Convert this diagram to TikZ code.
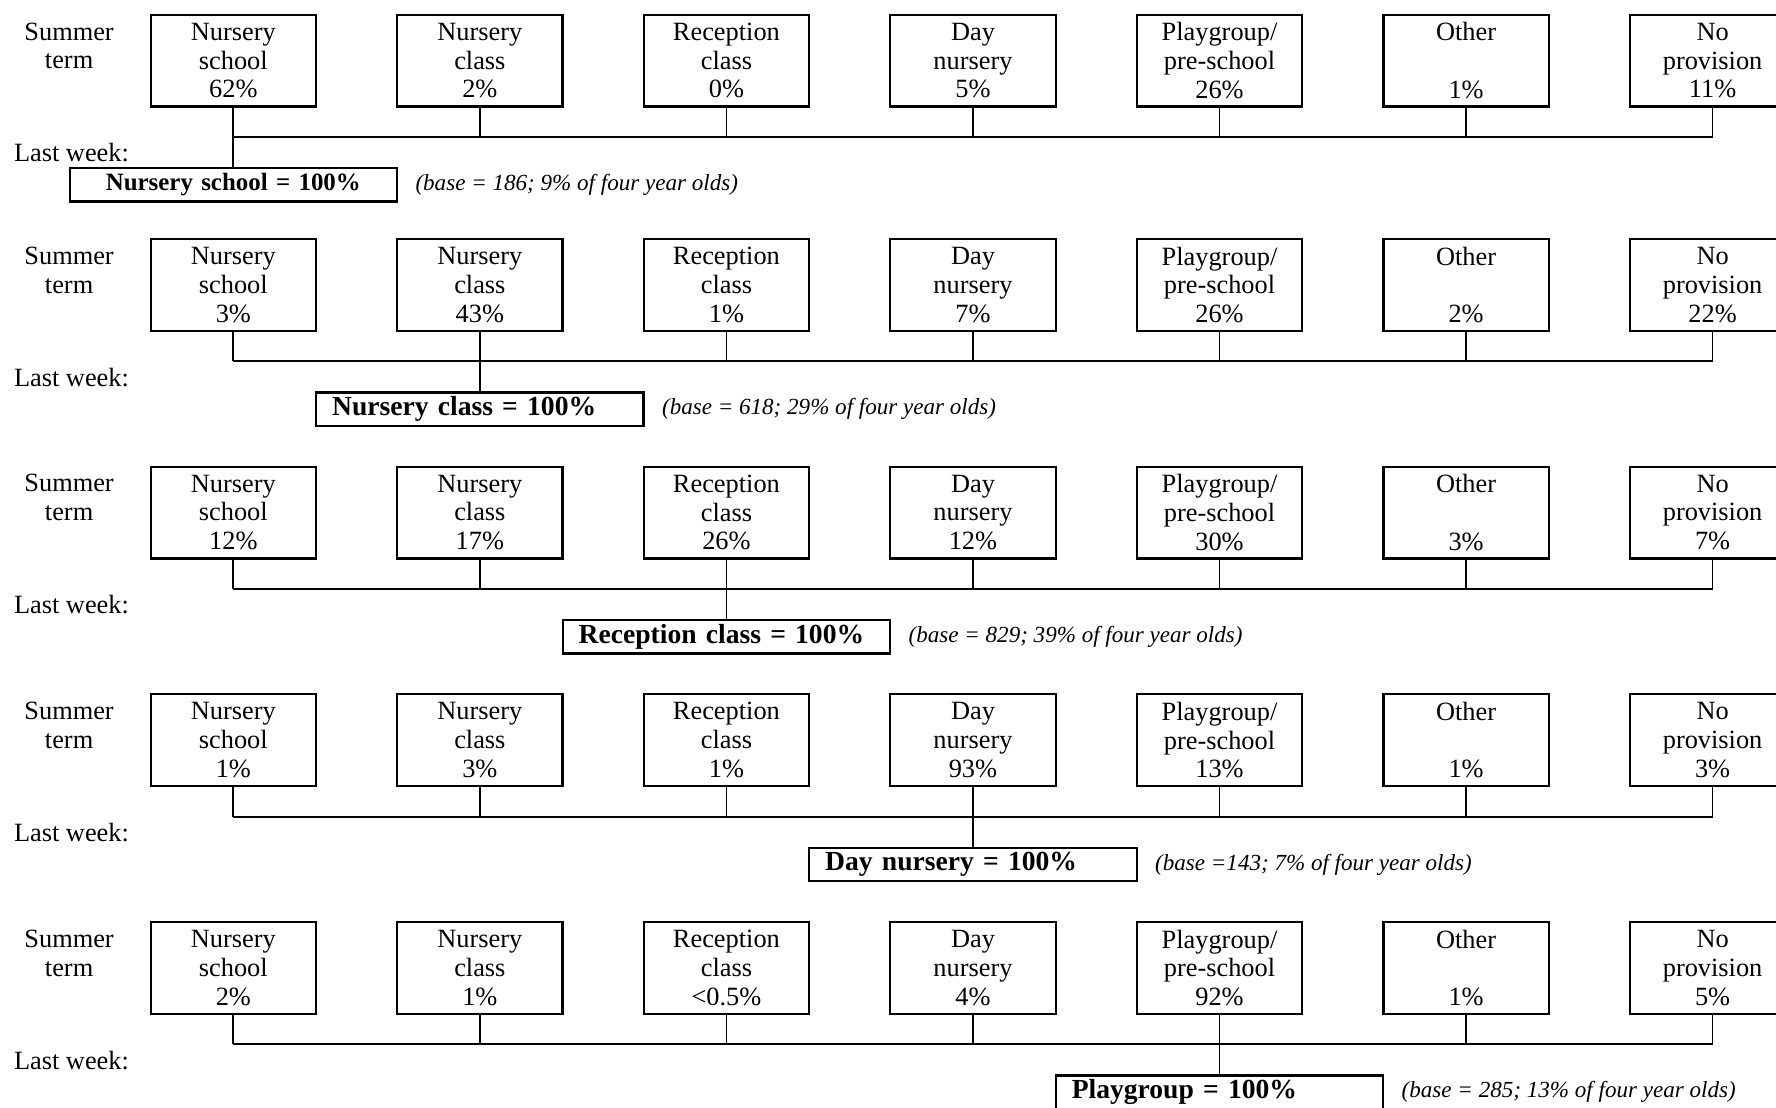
\documentclass[tikz,border=0pt]{standalone}
\usepackage{fontspec}
\setmainfont{Liberation Serif}
\tikzset{
  x=0.55pt, y=-0.55pt,
  provbox/.style={draw, line width=1.1pt, minimum width=80.3pt, minimum height=44.55pt,
    inner sep=0pt, align=center, font=\fontsize{12.8}{14}\selectfont},
  lastbox/.style={draw, line width=1.1pt, minimum width=158.95pt, minimum height=16.2pt,
    inner sep=0pt, text width=143.5pt},
  conn/.style={line width=0.85pt},
  sidelabel/.style={align=center, inner sep=0pt, font=\fontsize{12.8}{14}\selectfont},
  basetext/.style={inner sep=0pt, font=\fontsize{11.2}{13}\selectfont\itshape}
}
\newcommand\provlab[1]{\ifcase#1 Nursery\\school\or Nursery\\class\or Reception\\class\or Day\\nursery\or Playgroup/\\pre-school\or Other\\\mbox{}\or No\\provision\fi}
% #1 row name, #2 top y, #3 percentages, #4 chosen index, #5 bottom label, #6 base text, #7 label style
\newcommand\provrow[7]{%
  \node[sidelabel] (#1sum) at (61,#2+27.5) {Summer\\term};
  \coordinate (#1bus) at (0,#2+108);
  \node[sidelabel, anchor=west] (#1lw) at (12,#2+122) {Last week:};
  \foreach \p [count=\i from 0] in {#3} {
    \node[provbox] (#1b\i) at (206+217.67*\i,#2+40.5) {\provlab{\i}\\\p\%};
    \draw[conn] (#1b\i.south) -- (#1b\i.south |- #1bus);
  }
  \draw[conn] (#1b0.south |- #1bus) -- (#1b6.south |- #1bus);
  \node[lastbox, #7] (#1t) at ([yshift=-(135.5+14.75)*0.55pt+0.55pt*108]#1b#4.south |- #1bus) {#5};
  \draw[conn] (#1b#4.south |- #1bus) -- (#1t.north);
  \node[basetext, anchor=west] (#1base) at ([xshift=8.25pt]#1t.east) {#6};
}
\begin{document}
\begin{tikzpicture}
\clip (0,0) rectangle (1568,978);
\provrow{ra}{13}{62,2,0,5,26,1,11}{0}{Nursery school = 100\%}{(base = 186; 9\% of four year olds)}{align=center, font=\fontsize{12.1}{14}\selectfont\bfseries}
\provrow{rb}{211}{3,43,1,7,26,2,22}{1}{Nursery class = 100\%}{(base = 618; 29\% of four year olds)}{align=left, font=\fontsize{13.4}{15}\selectfont\bfseries}
\provrow{rc}{412}{12,17,26,12,30,3,7}{2}{Reception class = 100\%}{(base = 829; 39\% of four year olds)}{align=left, font=\fontsize{13.4}{15}\selectfont\bfseries}
\provrow{rd}{613}{1,3,1,93,13,1,3}{3}{Day nursery = 100\%}{(base =143; 7\% of four year olds)}{align=left, font=\fontsize{13.4}{15}\selectfont\bfseries}
\provrow{re}{814}{2,1,<0.5,4,92,1,5}{4}{Playgroup = 100\%}{(base = 285; 13\% of four year olds)}{align=left, font=\fontsize{13.4}{15}\selectfont\bfseries}
\end{tikzpicture}
\end{document}
